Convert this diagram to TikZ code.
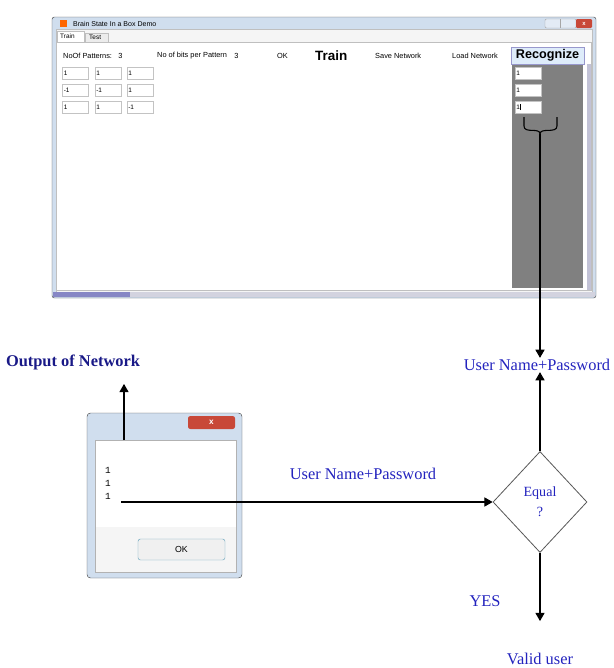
\documentclass[tikz,border=0pt]{standalone}
\usepackage{fontspec}
\setmainfont{Liberation Serif}
\setsansfont{Liberation Sans}
\setmonofont{Liberation Mono}
\usetikzlibrary{positioning}
\usetikzlibrary{arrows}
\usetikzlibrary{shapes.geometric}
\tikzstyle{every link} = []
\tikzstyle{link} = [>=triangle 60, draw, ->, line width=0.9pt, every link]
\definecolor{lbl}{RGB}{35,35,190}
\definecolor{lbldark}{RGB}{25,25,135}
\definecolor{frame}{RGB}{208,222,238}
\definecolor{panel}{RGB}{128,128,128}
\definecolor{boxline}{RGB}{195,195,195}
\definecolor{btnblue}{RGB}{222,236,250}
\definecolor{closered}{RGB}{200,72,56}
\tikzstyle{caption} = [text=lbl, font=\fontsize{14}{16}\selectfont, inner sep=1pt]
\tikzstyle{ui} = [font=\sffamily\fontsize{6.3}{7}\selectfont, inner sep=0pt, anchor=west]
\tikzstyle{uibold} = [font=\sffamily\bfseries\fontsize{11.5}{12}\selectfont, inner sep=0pt]
\tikzstyle{textbox} = [draw=boxline, fill=white, text width=0.7cm, inner sep=1.2pt,
                       minimum height=0.36cm, align=left, font=\sffamily\fontsize{5.5}{6}\selectfont]
\tikzstyle{mono} = [font=\ttfamily\fontsize{8}{9}\selectfont, inner sep=0pt]

\begin{document}
\begin{tikzpicture}[x=0.03cm, y=-0.03cm]
\useasboundingbox (0,0) rectangle (614,668);

% the demo window
\draw[draw=gray!60!black, fill=frame, rounded corners=2pt] (52,17) rectangle (596,298);
\fill[orange!80!red] (60,20) rectangle (67,27);
\node[ui, font=\sffamily\fontsize{6}{7}\selectfont, right=5pt of {(67,23.5)}] (title) {Brain State In a Box Demo};
\draw[draw=gray!70, fill=frame!60!white, rounded corners=1pt] (545,19) rectangle (576,28);
\draw[gray!70] (560,19) -- (560,28);
\fill[closered, rounded corners=1pt] (576,19) rectangle (592,28);
\node[white, font=\sffamily\bfseries\fontsize{5}{5}\selectfont, inner sep=0pt] (winx) at (584,23.5) {x};
\draw[draw=gray!50, fill=gray!8] (56,29) rectangle (592,292);
\draw[draw=gray!50, fill=white] (56,42) rectangle (591,290);
\draw[draw=gray!50, fill=white] (57,31) rectangle (84,42);
\draw[draw=gray!50, fill=gray!15] (85,33) rectangle (108,42);
\node[ui, font=\sffamily\fontsize{5.5}{6}\selectfont] (tabtrain) at (60,36.5) {Train};
\node[ui, font=\sffamily\fontsize{5.5}{6}\selectfont] (tabtest) at (89,37.5) {Test};
\fill[blue!35!gray!70] (53,292) rectangle (130,297);
\fill[blue!15!gray!30] (130,292) rectangle (595,297);
\fill[blue!20!gray!40] (587,64) rectangle (591,290);

% toolbar
\node[ui] (npat) at (63,56) {NoOf Patterns:};
\node[ui, right=5pt of npat] (npatv) {3};
\node[ui] (nbits) at (157,56) {No of bits per Pattern};
\node[ui, right=6pt of nbits] (nbitsv) {3};
\node[ui] (ok) at (277,56) {OK};
\node[uibold, anchor=west] (train) at (315,56) {Train};
\node[ui] (save) at (375,56) {Save Network};
\node[ui] (load) at (452,56) {Load Network};
\fill[panel] (512,64) rectangle (583,288);
\node[uibold, font=\sffamily\bfseries\fontsize{10.8}{12}\selectfont, draw=blue!35!gray!60, fill=btnblue,
      minimum width=2.19cm, minimum height=0.52cm] (recog) at (547.5,55.5) {Recognize};

% pattern grid
\foreach \a/\b/\c [count=\r] in {1/1/1, -1/-1/1, 1/1/-1} {
  \node[textbox] (g\r a) at (75.5,56+17*\r) {\a};
  \node[textbox] (g\r b) at (108,56+17*\r) {\b};
  \node[textbox] (g\r c) at (140,56+17*\r) {\c};
}
\node[textbox] (rc1) at (528,73) {1};
\node[textbox] (rc2) at (528,90) {1};
\node[textbox] (rc3) at (528,107) {1\rule[-0.8pt]{0.3pt}{5.5pt}};

% brace
\coordinate (bracetip) at (540,134);
\draw[line width=0.9pt] (524,117) -- (524,126) .. controls (524,134) and (540,127) .. (bracetip);
\draw[line width=0.9pt] (557,117) -- (557,126) .. controls (557,134) and (540,127) .. (bracetip);

% message box
\draw[draw=gray!60!black, fill=frame, rounded corners=3pt] (87,413) rectangle (242,578);
\fill[closered, rounded corners=2pt] (188,416) rectangle (235,429);
\node[white, font=\sffamily\bfseries\fontsize{7}{7}\selectfont, inner sep=0pt] (dlgx) at (211.5,422.5) {x};
\draw[draw=gray!60, fill=white] (95,440) rectangle (236,572);
\fill[gray!8] (95.5,527) rectangle (235.5,571.5);
\node[draw=cyan!45!gray, fill=gray!12, rounded corners=2pt, minimum width=2.61cm, minimum height=0.63cm,
      font=\sffamily\fontsize{7.5}{8}\selectfont] (okbtn) at (181.5,549.5) {OK};
\node[mono] (v1) at (108,470) {1};
\node[mono] (v2) at (108,483) {1};
\node[mono] (v3) at (108,496) {1};

% flow
\node[caption, font=\bfseries\fontsize{14}{16}\selectfont, text=lbldark] (outlbl) at (73,362) {Output of Network};
\coordinate (dlgtop) at (124,440);
\coordinate (outend) at (124,384);
\draw[link] (dlgtop) -- (outend);

\node[diamond, draw=gray!70!black, line width=0.7pt, aspect=1, minimum width=2.82cm, minimum height=3.03cm,
      inner sep=0pt, text=lbl, align=center, font=\fontsize{12}{17}\selectfont] (equal) at (540,502) {Equal\\?};
\coordinate (src) at (121,502);
\draw[link] (src) -- (equal.west);
\node[caption] (credmid) at (363,474) {User Name+Password};

\node[caption] (credtop) at (537,365) {User Name+Password};
\draw[link] (bracetip) -- (bracetip |- credtop.north);
\draw[link] (equal.north) -- (equal.north |- credtop.south);

\node[caption] (yes) at (485,601) {YES};
\node[caption] (valid) at (540,659) {Valid user};
\coordinate (yesend) at (540,621);
\draw[link] (equal.south) -- (yesend);
\end{tikzpicture}
\end{document}
